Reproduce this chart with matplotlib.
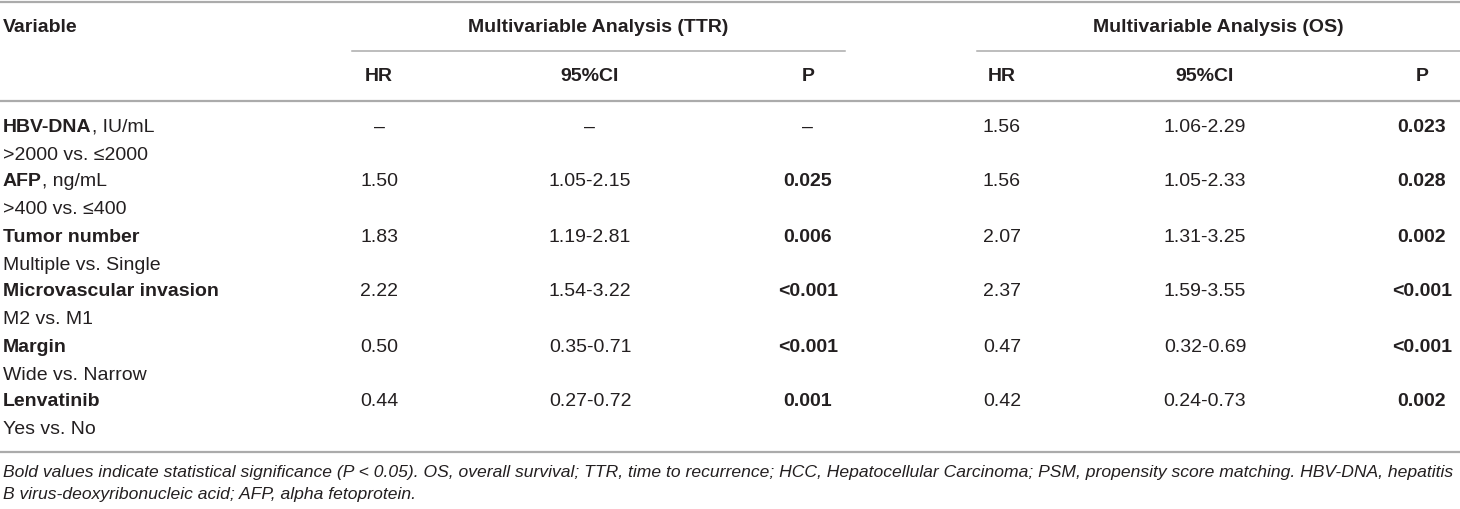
import matplotlib
matplotlib.use('Agg')
import matplotlib.pyplot as plt

# table content
variables = ['HBV-DNA', 'AFP', 'Tumor number', 'Microvascular invasion', 'Margin', 'Lenvatinib']
units = ['IU/mL', 'ng/mL', '', '', '', '']
comparisons = ['>2000 vs. \u22642000', '>400 vs. \u2264400', 'Multiple vs. Single',
               'M2 vs. M1', 'Wide vs. Narrow', 'Yes vs. No']
ttr_hr = ['\u2013', '1.50', '1.83', '2.22', '0.50', '0.44']
ttr_ci = ['\u2013', '1.05-2.15', '1.19-2.81', '1.54-3.22', '0.35-0.71', '0.27-0.72']
ttr_p = ['\u2013', '0.025', '0.006', '<0.001', '<0.001', '0.001']
os_hr = ['1.56', '1.56', '2.07', '2.37', '0.47', '0.42']
os_ci = ['1.06-2.29', '1.05-2.33', '1.31-3.25', '1.59-3.55', '0.32-0.69', '0.24-0.73']
os_p = ['0.023', '0.028', '0.002', '<0.001', '<0.001', '0.002']
sub_headers = ['HR', '95%CI', 'P', 'HR', '95%CI', 'P']
footnote = ['Bold values indicate statistical significance (P < 0.05). OS, overall survival; TTR, time to recurrence; '
            'HCC, Hepatocellular Carcinoma; PSM, propensity score matching. HBV-DNA, hepatitis',
            'B virus-deoxyribonucleic acid; AFP, alpha fetoprotein.']

W, H = 1460, 509
plt.rcParams['font.family'] = ['Liberation Sans', 'DejaVu Sans']
fig = plt.figure(figsize=(W / 100, H / 100), dpi=100)
ax = fig.add_axes([0, 0, 1, 1])
ax.set_xlim(0, W)
ax.set_ylim(H, 0)
ax.axis('off')

fs = 14
tc = '#231f20'
lc = '#ababab'

def is_bold(p):
    return p not in ('\u2013', '') and (p.startswith('<') or float(p) < 0.05)

# rules
ax.plot([0, W], [2, 2], color=lc, lw=1.6)
ax.plot([352, 845], [51, 51], color=lc, lw=1.1)
ax.plot([977, W], [51, 51], color=lc, lw=1.1)
ax.plot([0, W], [101, 101], color=lc, lw=1.6)
ax.plot([0, W], [452, 452], color=lc, lw=1.6)

# header
ax.text(3, 27, 'Variable', fontsize=fs, fontweight='bold', color=tc, va='center')
ax.text(598, 27, 'Multivariable Analysis (TTR)', fontsize=fs, fontweight='bold', color=tc,
        va='center', ha='center')
ax.text(1218, 27, 'Multivariable Analysis (OS)', fontsize=fs, fontweight='bold', color=tc,
        va='center', ha='center')
cols = [379, 590, 808, 1002, 1205, 1422]
for x, lab in zip(cols, sub_headers):
    ax.text(x, 76, lab, fontsize=fs, fontweight='bold', color=tc, va='center', ha='center')

# body
y0, step = 127, 55
for i in range(len(variables)):
    y = y0 + i * step
    t = ax.text(3, y, variables[i], fontsize=fs, fontweight='bold', color=tc, va='center')
    if units[i]:
        ax.annotate(', ' + units[i], xy=(1, 0.5), xycoords=t, fontsize=fs, color=tc,
                    va='center', ha='left')
    ax.text(3, y + 28, comparisons[i], fontsize=fs, color=tc, va='center')
    vals = [ttr_hr[i], ttr_ci[i], ttr_p[i], os_hr[i], os_ci[i], os_p[i]]
    for j, (x, v) in enumerate(zip(cols, vals)):
        bold = j in (2, 5) and is_bold(v)
        ax.text(x, y, v, fontsize=fs, color=tc, va='center', ha='center',
                fontweight='bold' if bold else 'normal')

for k, line in enumerate(footnote):
    ax.text(3, 472 + k * 22, line, fontsize=12.6, style='italic', color=tc, va='center')

fig.savefig('out.png', dpi=100)
